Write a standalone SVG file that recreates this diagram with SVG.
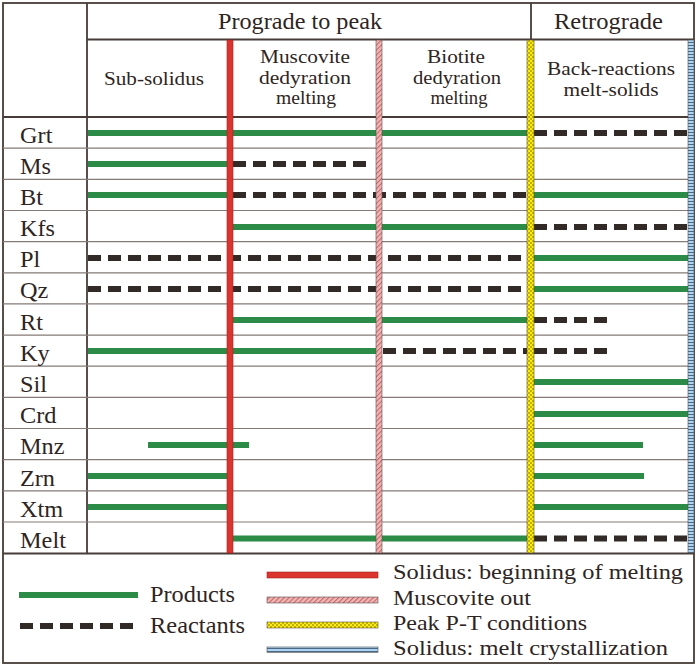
<svg xmlns="http://www.w3.org/2000/svg" width="700" height="667" viewBox="0 0 700 667">
<defs>
<pattern id="pk" width="3.5" height="3.5" patternUnits="userSpaceOnUse" patternTransform="rotate(45)">
<rect width="3.5" height="3.5" fill="#f4b3b3"/>
<rect width="1" height="3.5" fill="#b86a6a"/>
</pattern>
<pattern id="yl" width="4" height="4" patternUnits="userSpaceOnUse">
<rect width="4" height="4" fill="#fff000"/>
<rect width="2" height="2" fill="#bfae10"/>
<rect x="2" y="2" width="2" height="2" fill="#bfae10"/>
</pattern>
<pattern id="bl" width="6" height="3" patternUnits="userSpaceOnUse">
<rect width="6" height="3" fill="#aad4f2"/>
<rect width="6" height="1" fill="#4c6a86"/>
</pattern>
<style>
text{font-family:"Liberation Serif","Times New Roman",serif;fill:#2e2523}
.h{font-size:23px}
.s{font-size:18px}
.lb{font-size:23px}
.lg{font-size:21px}
.g{stroke:#2b8b47;stroke-width:6;fill:none}
.r{stroke:#322a27;stroke-width:6;stroke-dasharray:13 7;fill:none}
.row{stroke:#857a76;stroke-width:1.2}
.frame{stroke:#463c38;stroke-width:1.8;fill:none}
.bar{stroke:#5a4e4a;stroke-width:0.6}
</style>
</defs>
<rect width="700" height="667" fill="#ffffff"/>

<g id="grid">
<rect class="frame" x="3" y="3" width="691" height="660"/>
<line class="frame" x1="87" y1="3" x2="87" y2="553"/>
<line class="frame" x1="87" y1="39.5" x2="694" y2="39.5"/>
<line class="frame" x1="531" y1="3" x2="531" y2="40"/>
<line class="frame" x1="3" y1="117" x2="694" y2="117"/>
<line class="row" x1="3" y1="148.2" x2="688" y2="148.2"/>
<line class="row" x1="3" y1="179.3" x2="688" y2="179.3"/>
<line class="row" x1="3" y1="210.5" x2="688" y2="210.5"/>
<line class="row" x1="3" y1="241.6" x2="688" y2="241.6"/>
<line class="row" x1="3" y1="272.8" x2="688" y2="272.8"/>
<line class="row" x1="3" y1="303.9" x2="688" y2="303.9"/>
<line class="row" x1="3" y1="335.1" x2="688" y2="335.1"/>
<line class="row" x1="3" y1="366.2" x2="688" y2="366.2"/>
<line class="row" x1="3" y1="397.4" x2="688" y2="397.4"/>
<line class="row" x1="3" y1="428.5" x2="688" y2="428.5"/>
<line class="row" x1="3" y1="459.7" x2="688" y2="459.7"/>
<line class="row" x1="3" y1="490.8" x2="688" y2="490.8"/>
<line class="row" x1="3" y1="522" x2="688" y2="522"/>
<line class="frame" x1="3" y1="553.5" x2="694" y2="553.5"/>
</g>

<g id="headers">
<text class="h" x="300" y="29" text-anchor="middle" textLength="164" lengthAdjust="spacingAndGlyphs">Prograde to peak</text>
<text class="h" x="608.5" y="29" text-anchor="middle" textLength="109" lengthAdjust="spacingAndGlyphs">Retrograde</text>
<text class="s" x="154" y="85" text-anchor="middle" textLength="100" lengthAdjust="spacingAndGlyphs">Sub-solidus</text>
<text class="s" x="305" y="63" text-anchor="middle" textLength="90" lengthAdjust="spacingAndGlyphs">Muscovite</text>
<text class="s" x="305" y="84" text-anchor="middle" textLength="92" lengthAdjust="spacingAndGlyphs">dedyration</text>
<text class="s" x="306" y="104" text-anchor="middle" textLength="60" lengthAdjust="spacingAndGlyphs">melting</text>
<text class="s" x="456" y="63" text-anchor="middle" textLength="58" lengthAdjust="spacingAndGlyphs">Biotite</text>
<text class="s" x="457" y="84" text-anchor="middle" textLength="88" lengthAdjust="spacingAndGlyphs">dedyration</text>
<text class="s" x="459" y="104" text-anchor="middle" textLength="57" lengthAdjust="spacingAndGlyphs">melting</text>
<text class="s" x="611" y="75" text-anchor="middle" textLength="128" lengthAdjust="spacingAndGlyphs">Back-reactions</text>
<text class="s" x="611" y="96" text-anchor="middle" textLength="95" lengthAdjust="spacingAndGlyphs">melt-solids</text>
</g>

<g id="row-labels">
<text class="lb" x="20" y="143" textLength="32.4" lengthAdjust="spacingAndGlyphs">Grt</text>
<text class="lb" x="20" y="174" textLength="31" lengthAdjust="spacingAndGlyphs">Ms</text>
<text class="lb" x="20" y="205" textLength="23" lengthAdjust="spacingAndGlyphs">Bt</text>
<text class="lb" x="20" y="236" textLength="35" lengthAdjust="spacingAndGlyphs">Kfs</text>
<text class="lb" x="20" y="267" textLength="20.3" lengthAdjust="spacingAndGlyphs">Pl</text>
<text class="lb" x="20" y="298" textLength="28.3" lengthAdjust="spacingAndGlyphs">Qz</text>
<text class="lb" x="20" y="330" textLength="23" lengthAdjust="spacingAndGlyphs">Rt</text>
<text class="lb" x="20" y="361" textLength="29.7" lengthAdjust="spacingAndGlyphs">Ky</text>
<text class="lb" x="20" y="392" textLength="27" lengthAdjust="spacingAndGlyphs">Sil</text>
<text class="lb" x="20" y="423" textLength="36.5" lengthAdjust="spacingAndGlyphs">Crd</text>
<text class="lb" x="20" y="454" textLength="44.5" lengthAdjust="spacingAndGlyphs">Mnz</text>
<text class="lb" x="20" y="486" textLength="35" lengthAdjust="spacingAndGlyphs">Zrn</text>
<text class="lb" x="20" y="517" textLength="43.2" lengthAdjust="spacingAndGlyphs">Xtm</text>
<text class="lb" x="20" y="548" textLength="45.9" lengthAdjust="spacingAndGlyphs">Melt</text>
</g>

<g id="connectors">
<g id="Grt"><line class="g" x1="88" y1="133" x2="527" y2="133"/><line class="r" x1="534" y1="133" x2="690" y2="133"/></g>
<g id="Ms"><line class="g" x1="88" y1="164" x2="227" y2="164"/><line class="r" x1="233" y1="164" x2="368" y2="164"/></g>
<g id="Bt"><line class="g" x1="88" y1="195" x2="227" y2="195"/><line class="r" x1="233" y1="195" x2="527" y2="195"/><line class="g" x1="534" y1="195" x2="688" y2="195"/></g>
<g id="Kfs"><line class="g" x1="233" y1="227" x2="527" y2="227"/><line class="r" x1="534" y1="227" x2="690" y2="227"/></g>
<g id="Pl"><line class="r" x1="88" y1="258" x2="527" y2="258"/><line class="g" x1="534" y1="258" x2="688" y2="258"/></g>
<g id="Qz"><line class="r" x1="88" y1="289" x2="527" y2="289"/><line class="g" x1="534" y1="289" x2="688" y2="289"/></g>
<g id="Rt"><line class="g" x1="233" y1="320" x2="527" y2="320"/><line class="r" x1="534" y1="320" x2="608" y2="320"/></g>
<g id="Ky"><line class="g" x1="88" y1="351" x2="376" y2="351"/><line class="r" x1="383" y1="351" x2="527" y2="351"/><line class="r" x1="534" y1="351" x2="608" y2="351"/></g>
<g id="Sil"><line class="g" x1="534" y1="382" x2="688" y2="382"/></g>
<g id="Crd"><line class="g" x1="534" y1="414" x2="688" y2="414"/></g>
<g id="Mnz"><line class="g" x1="148" y1="445" x2="249" y2="445"/><line class="g" x1="534" y1="445" x2="643" y2="445"/></g>
<g id="Zrn"><line class="g" x1="88" y1="476" x2="227" y2="476"/><line class="g" x1="534" y1="476" x2="644" y2="476"/></g>
<g id="Xtm"><line class="g" x1="88" y1="507" x2="227" y2="507"/><line class="g" x1="534" y1="507" x2="688" y2="507"/></g>
<g id="Melt"><line class="g" x1="233" y1="538.5" x2="527" y2="538.5"/><line class="r" x1="534" y1="538.5" x2="690" y2="538.5"/></g>
</g>

<g id="bars">
<rect id="solidus-melting" x="227" y="40" width="6" height="513" fill="#d9342e" stroke="#a82420" stroke-width="0.6"/>
<rect id="muscovite-out" class="bar" x="376" y="40" width="6" height="513" fill="url(#pk)"/>
<rect id="peak-pt" class="bar" x="527" y="40" width="7" height="513" fill="url(#yl)"/>
<rect id="solidus-crystallization" class="bar" x="688" y="40" width="6" height="513" fill="url(#bl)"/>
</g>

<g id="legend">
<line class="g" x1="19" y1="595" x2="138" y2="595"/>
<text class="lb" x="150" y="602" textLength="85" lengthAdjust="spacingAndGlyphs">Products</text>
<line class="r" x1="20" y1="626" x2="136" y2="626" stroke-dasharray="13 7.6"/>
<text class="lb" x="150" y="633" textLength="95" lengthAdjust="spacingAndGlyphs">Reactants</text>
<rect x="267" y="572" width="111" height="6" fill="#d9342e" stroke="#a82420" stroke-width="0.6"/>
<rect class="bar" x="267" y="597" width="111" height="6" fill="url(#pk)"/>
<rect class="bar" x="267" y="622" width="111" height="6" fill="url(#yl)"/>
<rect class="bar" x="267" y="647" width="111" height="5.5" fill="url(#bl)"/>
<text class="lg" x="393" y="579" textLength="290" lengthAdjust="spacingAndGlyphs">Solidus: beginning of melting</text>
<text class="lg" x="393" y="605" textLength="138" lengthAdjust="spacingAndGlyphs">Muscovite out</text>
<text class="lg" x="393" y="630" textLength="194" lengthAdjust="spacingAndGlyphs">Peak P-T conditions</text>
<text class="lg" x="393" y="655" textLength="275" lengthAdjust="spacingAndGlyphs">Solidus: melt crystallization</text>
</g>
</svg>
